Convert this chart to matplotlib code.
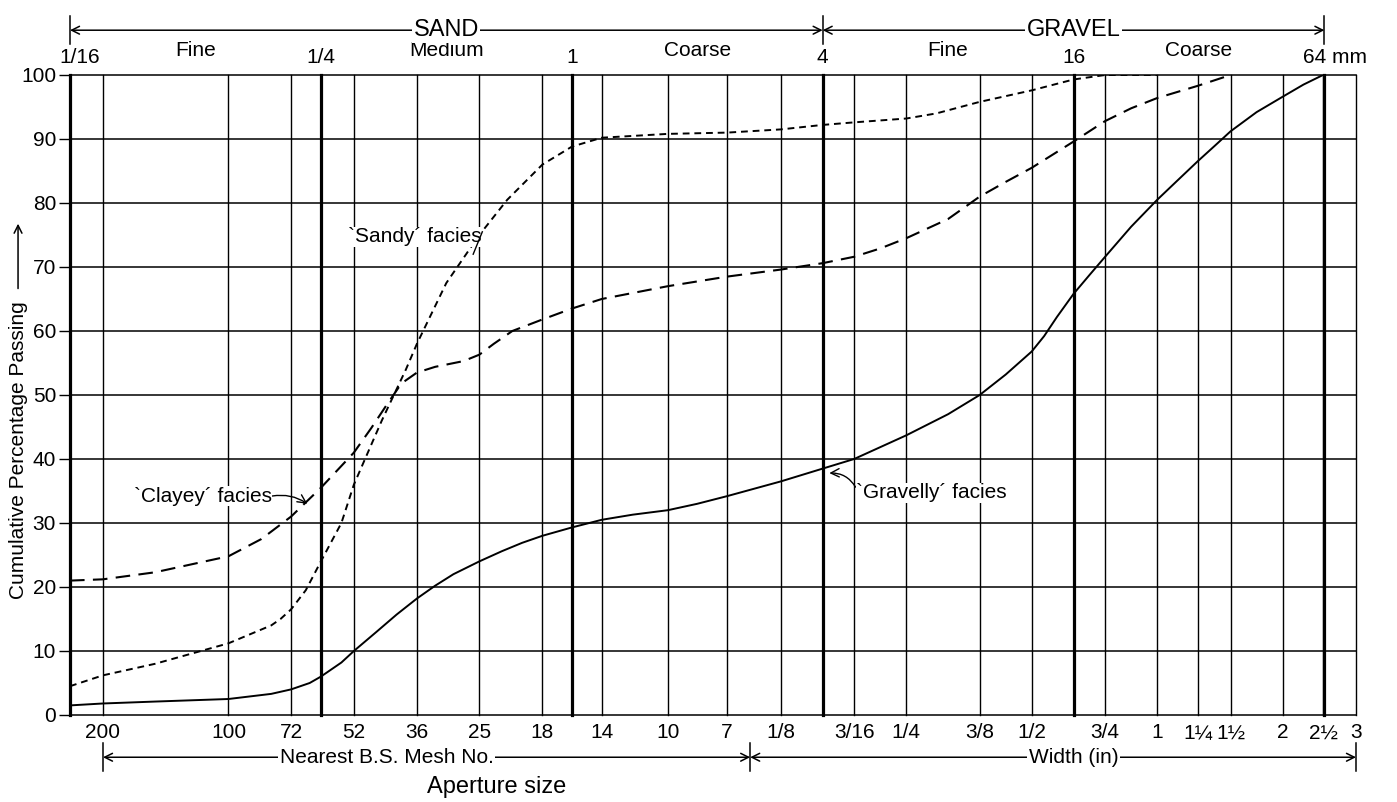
import numpy as np
import matplotlib
matplotlib.use('Agg')
import matplotlib.pyplot as plt
from matplotlib import transforms

plt.rcParams['font.family'] = ['Liberation Sans', 'DejaVu Sans']

# grading curves: particle size (mm) vs cumulative % passing
gravelly_mm = [0.0625, 0.075, 0.1, 0.15, 0.19, 0.212, 0.235, 0.25, 0.28, 0.3, 0.34, 0.38,
               0.425, 0.47, 0.52, 0.6, 0.68, 0.76, 0.85, 1.0, 1.18, 1.4, 1.7, 2.0, 2.36,
               3.175, 4.0, 4.76, 6.35, 8.0, 9.525, 11.0, 12.7, 13.6, 14.6, 16.0, 17.5,
               19.05, 22.0, 25.4, 28.5, 31.75, 35.0, 38.1, 44.0, 50.8, 57.0, 63.5]
gravelly_pct = [1.5, 1.8, 2.1, 2.5, 3.3, 4.0, 5.0, 6.0, 8.2, 10.0, 13.0, 15.7,
                18.2, 20.2, 22.0, 24.0, 25.6, 26.9, 28.0, 29.3, 30.5, 31.3, 32.0, 33.0, 34.2,
                36.5, 38.5, 40.0, 43.7, 47.0, 50.0, 53.2, 56.8, 59.2, 62.2, 65.8, 68.8,
                71.6, 76.3, 80.5, 83.6, 86.5, 89.0, 91.2, 94.2, 96.6, 98.5, 100.0]

clayey_mm = [0.0625, 0.075, 0.1, 0.15, 0.18, 0.212, 0.25, 0.3, 0.33, 0.36, 0.39, 0.425,
             0.47, 0.55, 0.6, 0.65, 0.72, 0.85, 1.0, 1.18, 1.7, 2.36, 3.175, 4.0, 4.76,
             5.5, 6.35, 8.0, 9.525, 11.0, 12.7, 16.0, 19.05, 22.0, 25.4, 31.75, 38.1]
clayey_pct = [21.0, 21.2, 22.3, 24.8, 27.5, 31.0, 35.5, 41.0, 44.8, 48.5, 51.8, 53.5,
              54.4, 55.3, 56.3, 58.0, 60.0, 61.8, 63.5, 65.0, 67.0, 68.5, 69.6, 70.6, 71.6,
              72.9, 74.5, 77.5, 81.0, 83.3, 85.5, 89.6, 92.8, 94.8, 96.4, 98.3, 100.0]

sandy_mm = [0.0625, 0.075, 0.1, 0.15, 0.19, 0.2, 0.212, 0.23, 0.25, 0.28, 0.3, 0.35,
            0.4, 0.425, 0.5, 0.6, 0.7, 0.85, 1.0, 1.18, 1.7, 2.36, 3.175, 4.0, 4.76,
            6.35, 7.5, 9.525, 12.7, 16.0, 19.05, 25.4]
sandy_pct = [4.5, 6.2, 8.0, 11.2, 14.0, 15.0, 16.5, 19.5, 24.0, 30.0, 36.0, 46.0,
             54.0, 58.0, 67.5, 75.0, 80.5, 86.0, 88.8, 90.2, 90.8, 91.0, 91.5, 92.2, 92.6,
             93.2, 94.0, 95.8, 97.6, 99.3, 100.0, 100.0]

# sieve apertures (mm) and their labels below the axis
sieve_mm = [0.075, 0.15, 0.212, 0.3, 0.425, 0.6, 0.85, 1.18, 1.7, 2.36,
            3.175, 4.7625, 6.35, 9.525, 12.7, 19.05, 25.4, 31.75, 38.1, 50.8, 63.5, 76.2]
sieve_labels = ['200', '100', '72', '52', '36', '25', '18', '14', '10', '7',
                '1/8', '3/16', '1/4', '3/8', '1/2', '3/4', '1', '1¼', '1½', '2', '2½', '3']

# Wentworth boundaries (mm) and class names on top
bound_mm = [0.0625, 0.25, 1.0, 4.0, 16.0, 64.0]
bound_labels = ['1/16', '1/4', '1', '4', '16', '64 mm']
class_mm = [0.125, 0.5, 2.0, 8.0, 32.0]
class_labels = ['Fine', 'Medium', 'Coarse', 'Fine', 'Coarse']

W, H = 1397, 802
fig = plt.figure(figsize=(W / 100, H / 100), dpi=100)
ax = fig.add_axes([70 / W, 1 - 715 / H, 1286 / W, 640 / H])
ax.set_xscale('log')
ax.set_xlim(0.0625, 76.2)
ax.set_ylim(0, 100)
for s in ax.spines.values():
    s.set_visible(False)

# grid
for y in range(0, 101, 10):
    ax.axhline(y, color='black', lw=1.1, clip_on=False, zorder=1)
for x in sieve_mm:
    ax.axvline(x, color='black', lw=1.0, clip_on=False, zorder=1)
for x in bound_mm:
    ax.axvline(x, color='black', lw=2.3, clip_on=False, zorder=1)

# curves
ax.plot(gravelly_mm, gravelly_pct, color='black', lw=1.4, zorder=3)
ax.plot(clayey_mm, clayey_pct, color='black', lw=1.5, dashes=(7, 4), zorder=3)
ax.plot(sandy_mm, sandy_pct, color='black', lw=1.4, dashes=(3.5, 2.5), zorder=3)

# ticks
ax.set_yticks(range(0, 101, 10))
ax.tick_params(axis='y', length=8, width=1.0, labelsize=15, pad=2)
ax.set_xticks(sieve_mm)
ax.set_xticklabels(sieve_labels)
ax.xaxis.set_minor_locator(matplotlib.ticker.NullLocator())
ax.tick_params(axis='x', length=0, labelsize=15, pad=6)

tr = transforms.blended_transform_factory(ax.transData, ax.transAxes)

# top labels
for x, lab in zip(bound_mm, bound_labels):
    xx = x
    if lab == '64 mm':
        xx = 68.0
    if lab == '1/16':
        xx = 0.066
    ax.text(xx, 1.028, lab, transform=tr, ha='center', va='center', fontsize=15)
for x, lab in zip(class_mm, class_labels):
    ax.text(x, 1.038, lab, transform=tr, ha='center', va='center', fontsize=15)

# range arrows
def span(x0, x1, y):
    ax.annotate('', xy=(x1, y), xytext=(x0, y), xycoords=tr, textcoords=tr,
                arrowprops=dict(arrowstyle='<->', lw=1.1, color='black',
                                shrinkA=0, shrinkB=0, mutation_scale=14), annotation_clip=False)

def bar(x, y):
    ax.plot([x, x], [y - 0.022, y + 0.022], transform=tr, color='black', lw=1.1, clip_on=False)

span(0.0625, 4.0, 1.070)
span(4.0, 64.0, 1.070)
for x in [0.0625, 4.0, 64.0]:
    bar(x, 1.070)
ax.text(0.5, 1.070, 'SAND', transform=tr, ha='center', va='center', fontsize=17,
        bbox=dict(facecolor='white', edgecolor='none', pad=1))
ax.text(16.0, 1.070, 'GRAVEL', transform=tr, ha='center', va='center', fontsize=17,
        bbox=dict(facecolor='white', edgecolor='none', pad=1))

span(0.075, 2.68, -0.066)
span(2.68, 76.2, -0.066)
for x in [0.075, 2.68, 76.2]:
    bar(x, -0.066)
ax.text(0.36, -0.066, 'Nearest B.S. Mesh No.', transform=tr, ha='center', va='center',
        fontsize=15, bbox=dict(facecolor='white', edgecolor='none', pad=1))
ax.text(16.0, -0.066, 'Width (in)', transform=tr, ha='center', va='center',
        fontsize=15, bbox=dict(facecolor='white', edgecolor='none', pad=1))
ax.text(0.66, -0.1125, 'Aperture size', transform=tr, ha='center', va='center', fontsize=17)

# y label with arrow
ax.text(-0.0404, 0.414, 'Cumulative Percentage Passing', transform=ax.transAxes,
        rotation=90, ha='center', va='center', fontsize=15)
ax.annotate('', xy=(-0.0404, 0.772), xytext=(-0.0404, 0.662), xycoords='axes fraction',
            textcoords='axes fraction', annotation_clip=False,
            arrowprops=dict(arrowstyle='->', lw=1.1, color='black', mutation_scale=14))

# curve labels
ax.text(0.42, 74.7, '`Sandy´ facies', ha='center', va='center', fontsize=15, zorder=4,
        bbox=dict(facecolor='white', edgecolor='none', pad=0.5))
ax.plot([0.58, 0.61], [72.0, 75.5], color='black', lw=1.0, zorder=4)

ax.annotate('`Clayey´ facies', xy=(0.232, 33.0), xytext=(0.13, 34.2),
            ha='center', va='center', fontsize=15, zorder=4,
            bbox=dict(facecolor='white', edgecolor='none', pad=0.5),
            arrowprops=dict(arrowstyle='->', lw=1.0, color='black', shrinkA=0, shrinkB=0,
                            relpos=(1.0, 0.5), connectionstyle='arc3,rad=-0.2'))

ax.annotate('`Gravelly´ facies', xy=(4.15, 37.8), xytext=(7.3, 34.7),
            ha='center', va='center', fontsize=15, zorder=4,
            bbox=dict(facecolor='white', edgecolor='none', pad=0.5),
            arrowprops=dict(arrowstyle='->', lw=1.0, color='black', shrinkA=0, shrinkB=0,
                            relpos=(0.0, 0.75), connectionstyle='arc3,rad=0.3'))

fig.savefig('out.png', dpi=100)
